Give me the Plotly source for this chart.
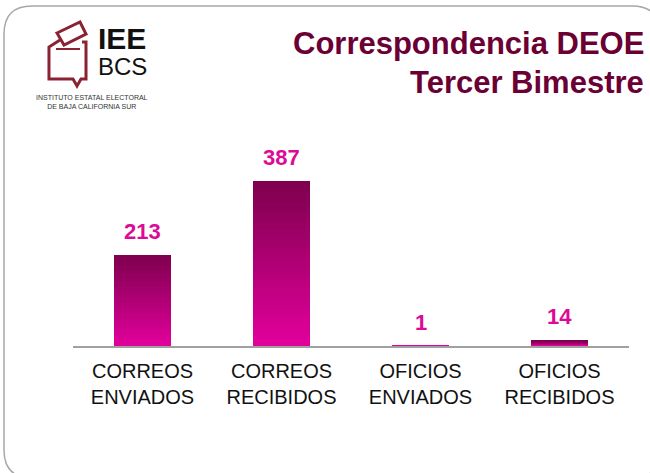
import plotly.graph_objects as go

# data
categorias = ["CORREOS<br>ENVIADOS", "CORREOS<br>RECIBIDOS", "OFICIOS<br>ENVIADOS", "OFICIOS<br>RECIBIDOS"]
valores = [213, 387, 1, 14]
titulo_1 = "Correspondencia DEOE"
titulo_2 = "Tercer Bimestre"

W, H = 650, 473
L, R, T, B = 73, 21, 154, 127
pw = W - L - R
ph = H - T - B
YMAX = 450

def fx(x):
    return (x - L) / pw

def fy(y):
    return (H - B - y) / ph

def pth(pts, close=True):
    s = "M " + " L ".join("%.4f,%.4f" % (fx(x), fy(y)) for x, y in pts)
    return s + (" Z" if close else "")

def mezcla(c1, c2, t):
    t = max(0.0, min(1.0, t))
    a = [int(c1[i:i + 2], 16) for i in (1, 3, 5)]
    b = [int(c2[i:i + 2], 16) for i in (1, 3, 5)]
    return "rgb(%d,%d,%d)" % tuple(round(a[k] + (b[k] - a[k]) * t) for k in range(3))

# gradient bars: each bar split in stacked slices (about one per pixel, max N),
# bright at the bottom, dark at the top
N = 40
abajo, arriba = "#E2009C", "#7E004E"
rebanadas = [min(N, max(1, round(v * ph / YMAX))) for v in valores]
fig = go.Figure()
for k in range(N):
    ys, cols = [], []
    for v, n in zip(valores, rebanadas):
        ys.append(v / n if k < n else 0)
        cols.append(mezcla(abajo, arriba, k / (n - 1) if n > 1 else 0))
    fig.add_trace(go.Bar(
        x=categorias, y=ys,
        marker=dict(color=cols, line=dict(width=0)),
        hoverinfo="skip", showlegend=False,
    ))

anots = []
for c, v in zip(categorias, valores):
    anots.append(dict(x=c, y=v, xref="x", yref="y", text="<b>%d</b>" % v, showarrow=False,
                      yanchor="bottom", yshift=9,
                      font=dict(family="Liberation Sans, Arial", size=22, color="#DC0A97")))

# title
anots.append(dict(x=fx(646), y=fy(43), xref="paper", yref="paper", text="<b>%s</b>" % titulo_1,
                  showarrow=False, xanchor="right", yanchor="middle",
                  font=dict(family="Liberation Sans, Arial", size=31, color="#6B0035")))
anots.append(dict(x=fx(646), y=fy(82), xref="paper", yref="paper", text="<b>%s</b>" % titulo_2,
                  showarrow=False, xanchor="right", yanchor="middle",
                  font=dict(family="Liberation Sans, Arial", size=31, color="#6B0035")))

# logo texts
anots.append(dict(x=fx(96), y=fy(51), xref="paper", yref="paper",
                  text="<span style='font-size:30px'><b>IEE</b></span><br><span style='font-size:24px'>BCS</span>",
                  showarrow=False, xanchor="left", yanchor="middle", align="left",
                  font=dict(family="Liberation Sans, Arial", size=20, color="#111111")))
anots.append(dict(x=fx(92), y=fy(101.5), xref="paper", yref="paper",
                  text="INSTITUTO ESTATAL ELECTORAL<br>DE BAJA CALIFORNIA SUR",
                  showarrow=False, xanchor="center", yanchor="middle", align="center",
                  font=dict(family="Liberation Sans, Arial", size=7, color="#333333")))

# slide border (rounded rectangle) and logo icon
x0, y0, x1, y1, r = 4, 6, 660, 478, 28
borde = ("M %.4f,%.4f L %.4f,%.4f Q %.4f,%.4f %.4f,%.4f L %.4f,%.4f Q %.4f,%.4f %.4f,%.4f "
         "L %.4f,%.4f Q %.4f,%.4f %.4f,%.4f L %.4f,%.4f Q %.4f,%.4f %.4f,%.4f Z") % (
    fx(x0 + r), fy(y0), fx(x1 - r), fy(y0), fx(x1), fy(y0), fx(x1), fy(y0 + r),
    fx(x1), fy(y1 - r), fx(x1), fy(y1), fx(x1 - r), fy(y1),
    fx(x0 + r), fy(y1), fx(x0), fy(y1), fx(x0), fy(y1 - r),
    fx(x0), fy(y0 + r), fx(x0), fy(y0), fx(x0 + r), fy(y0))
rojo = "#8B2232"
formas = [
    dict(type="path", xref="paper", yref="paper", path=borde,
         line=dict(color="#A8A8A8", width=1.5), fillcolor="rgba(0,0,0,0)", layer="below"),
    dict(type="path", xref="paper", yref="paper",
         path=pth([(60, 40), (49, 47), (49, 79), (73, 79), (77, 86), (81, 79), (86, 79), (86, 42), (82, 42)], close=False),
         line=dict(color=rojo, width=3)),
    dict(type="path", xref="paper", yref="paper",
         path=pth([(57, 33), (80, 22), (86, 34), (64, 45)]),
         line=dict(color=rojo, width=3), fillcolor="white"),
    dict(type="path", xref="paper", yref="paper",
         path=pth([(56, 49), (80, 49)], close=False),
         line=dict(color=rojo, width=2)),
]

fig.update_layout(
    width=W, height=H, barmode="stack", bargap=0.59,
    margin=dict(l=L, r=R, t=T, b=B),
    paper_bgcolor="white", plot_bgcolor="white",
    font=dict(family="Liberation Sans, Arial", color="#111111"),
    xaxis=dict(showline=True, linecolor="#A0A0A0", linewidth=1.5, showgrid=False,
               ticks="outside", ticklen=6, tickcolor="rgba(0,0,0,0)",
               tickfont=dict(size=20, color="#111111")),
    yaxis=dict(range=[0, YMAX], visible=False, showgrid=False),
    annotations=anots, shapes=formas, showlegend=False,
)

# quitar el margen del body para que la figura quede en 0,0
fig.write_html("out.html", config={"displayModeBar": False},
               post_script="document.body.style.margin='0';document.body.style.overflow='hidden';")
